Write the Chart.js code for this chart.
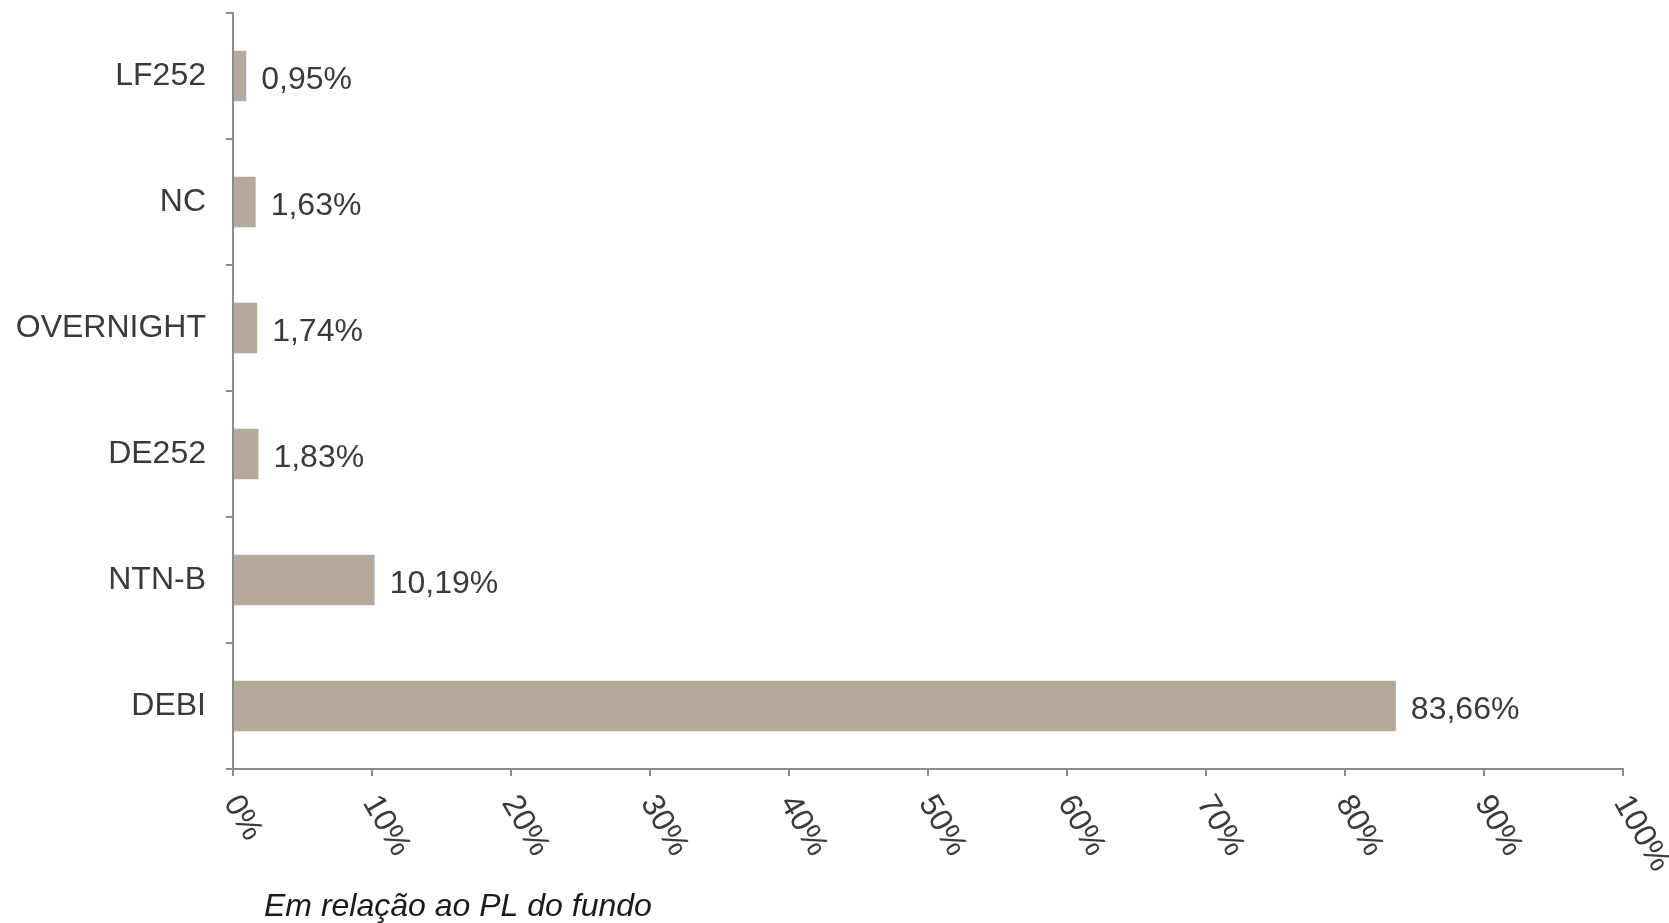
<!DOCTYPE html>
<html lang="pt-BR">
<head>
<meta charset="utf-8">
<title>Composição da carteira</title>
<script src="https://cdn.jsdelivr.net/npm/chart.js@4.4.1/dist/chart.umd.min.js"></script>
<style>
    html, body { margin: 0; padding: 0; background: #ffffff; }
    #grafico-wrap { width: 1669px; height: 923px; }
</style>
</head>
<body>
<div id="grafico-wrap">
    <canvas id="grafico" width="1669" height="923"></canvas>
</div>
<script>
// Dados do gráfico
const categorias = ['LF252', 'NC', 'OVERNIGHT', 'DE252', 'NTN-B', 'DEBI'];
const valores = [0.95, 1.63, 1.74, 1.83, 10.19, 83.66];
const eixoMin = 0;
const eixoMax = 100;
const eixoPasso = 10;
const legendaEixo = 'Em relação ao PL do fundo';

const FONTE = '"Liberation Sans", Arial, Helvetica, sans-serif';
const corTexto = '#3b3a38';
const corEixo = '#8c8c8c';
const corBarra = '#b6a999';

// Formata número no padrão brasileiro
function formatarPct(v, casas) {
    return v.toFixed(casas).replace('.', ',') + '%';
}

// Plugin: rótulos de valor, rótulos inclinados do eixo X e legenda do eixo
const rotulosPlugin = {
    id: 'rotulos',
    afterDatasetsDraw(chart) {
        const ctx = chart.ctx;
        const meta = chart.getDatasetMeta(0);

        ctx.save();
        ctx.fillStyle = corTexto;
        ctx.font = '32px ' + FONTE;
        ctx.textAlign = 'left';
        ctx.textBaseline = 'middle';
        meta.data.forEach((bar, i) => {
            ctx.fillText(formatarPct(valores[i], 2), bar.x + 15, bar.y + 4);
        });

        // Rótulos do eixo X girados no sentido horário
        const xScale = chart.scales.x;
        const baseY = xScale.top + 29;
        xScale.ticks.forEach(t => {
            const px = xScale.getPixelForValue(t.value);
            ctx.save();
            ctx.translate(px - 2, baseY);
            ctx.rotate(Math.PI / 3);
            ctx.textAlign = 'left';
            ctx.textBaseline = 'middle';
            ctx.fillText(t.value + '%', 0, 0);
            ctx.restore();
        });

        // Legenda do eixo
        ctx.fillStyle = '#1a1a1a';
        ctx.font = 'italic 32px ' + FONTE;
        ctx.textBaseline = 'alphabetic';
        ctx.fillText(legendaEixo, chart.chartArea.left + 31, 916);
        ctx.restore();
    }
};

new Chart(document.getElementById('grafico'), {
    type: 'bar',
    data: {
        labels: categorias,
        datasets: [{
            data: valores,
            backgroundColor: corBarra,
            borderWidth: 0,
            barPercentage: 0.4,
            categoryPercentage: 1.0
        }]
    },
    options: {
        indexAxis: 'y',
        responsive: false,
        animation: false,
        layout: {
            padding: { top: 13, right: 46, left: 0, bottom: 0 }
        },
        plugins: {
            legend: { display: false },
            tooltip: { enabled: false }
        },
        scales: {
            x: {
                min: eixoMin,
                max: eixoMax,
                ticks: { display: false, stepSize: eixoPasso },
                grid: {
                    drawOnChartArea: false,
                    tickLength: 7,
                    color: corEixo,
                    lineWidth: 2
                },
                border: { display: true, color: corEixo, width: 2 },
                afterFit(scale) {
                    scale.height = 154;
                    scale.paddingLeft = 0;
                    scale.paddingRight = 0;
                }
            },
            y: {
                offset: true,
                ticks: {
                    color: corTexto,
                    font: { family: FONTE, size: 32 },
                    padding: 20
                },
                grid: {
                    offset: true,
                    drawOnChartArea: false,
                    tickLength: 7,
                    color: corEixo,
                    lineWidth: 2
                },
                border: { display: true, color: corEixo, width: 2 },
                afterFit(scale) {
                    scale.width = 233;
                    scale.paddingTop = 0;
                    scale.paddingBottom = 0;
                }
            }
        }
    },
    plugins: [rotulosPlugin]
});
</script>
</body>
</html>
